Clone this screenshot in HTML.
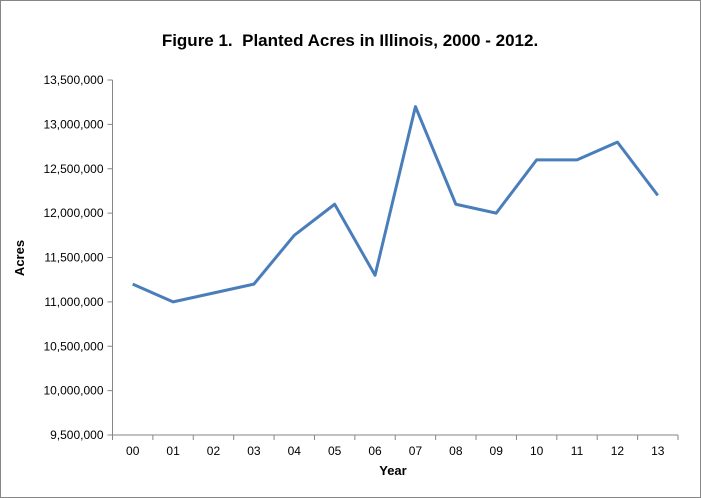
<!DOCTYPE html>
<html><head><meta charset="utf-8"><style>
body{margin:0;background:#fff}
svg{display:block;font-family:"Liberation Sans",Arial,sans-serif}
</style></head><body>
<svg id="chart" width="701" height="498" viewBox="0 0 701 498" xmlns="http://www.w3.org/2000/svg">
<rect x="0.5" y="0.5" width="700" height="497" fill="#fff" stroke="#868686"/>
<text x="350" y="46" text-anchor="middle" font-size="17" font-weight="bold" style="white-space:pre">Figure 1.  Planted Acres in Illinois, 2000 - 2012.</text>
<text transform="translate(24,258) rotate(-90)" text-anchor="middle" font-size="13" font-weight="bold">Acres</text>
<text x="393" y="475" text-anchor="middle" font-size="13" font-weight="bold">Year</text>
<g id="axes"></g>
<g id="marks"></g>
</svg>
<script>
const categories=["00","01","02","03","04","05","06","07","08","09","10","11","12","13"];
const acres=[11200000,11000000,11100000,11200000,11750000,12100000,11300000,13200000,12100000,12000000,12600000,12600000,12800000,12200000];
const yTicks=[9500000,10000000,10500000,11000000,11500000,12000000,12500000,13000000,13500000];
const NS="http://www.w3.org/2000/svg";
const plotLeft=112.5,plotRight=678,plotTop=80,plotBottom=435,yMin=9500000,yMax=13500000;
const bw=(plotRight-plotLeft)/categories.length;
function xPos(i){return plotLeft+bw*(i+0.5);}
function yPos(v){return plotBottom-(v-yMin)/(yMax-yMin)*(plotBottom-plotTop);}
function fmt(v){return String(Math.round(v)).replace(/\B(?=(\d{3})+(?!\d))/g,",");}
function mk(t,a){const e=document.createElementNS(NS,t);for(const k in a)e.setAttribute(k,a[k]);return e;}
const ax=document.getElementById('axes'),mg=document.getElementById('marks');
const yl=mk('line',{x1:plotLeft,y1:plotTop,x2:plotLeft,y2:plotBottom,stroke:'#868686'});


ax.appendChild(yl);
const xl=mk('line',{x1:plotLeft,y1:plotBottom,x2:plotRight,y2:plotBottom,stroke:'#868686'});


ax.appendChild(xl);
yTicks.forEach(v=>{
 const t=mk('line',{x1:plotLeft-5,y1:yPos(v),x2:plotLeft,y2:yPos(v),stroke:'#868686'});
 
 
 ax.appendChild(t);
 const l=mk('text',{x:plotLeft-9,y:yPos(v)+4,'text-anchor':'end','font-size':'12'});
 
 
 l.textContent=fmt(v);
 ax.appendChild(l);
});
for(let i=0;i<=categories.length;i++){
 const xx=plotLeft+bw*i;
 const t=mk('line',{x1:xx,y1:plotBottom,x2:xx,y2:plotBottom+5,stroke:'#868686'});
 
 
 ax.appendChild(t);
}
categories.forEach((c,i)=>{
 const l=mk('text',{x:xPos(i),y:plotBottom+20,'text-anchor':'middle','font-size':'12'});
 
 
 l.textContent=c;
 ax.appendChild(l);
});
const p=mk('polyline',{points:acres.map((v,i)=>xPos(i)+','+yPos(v)).join(' '),fill:'none',stroke:'#4a7ebb','stroke-width':'3','stroke-linejoin':'round'});


mg.appendChild(p);
</script>
</body></html>
